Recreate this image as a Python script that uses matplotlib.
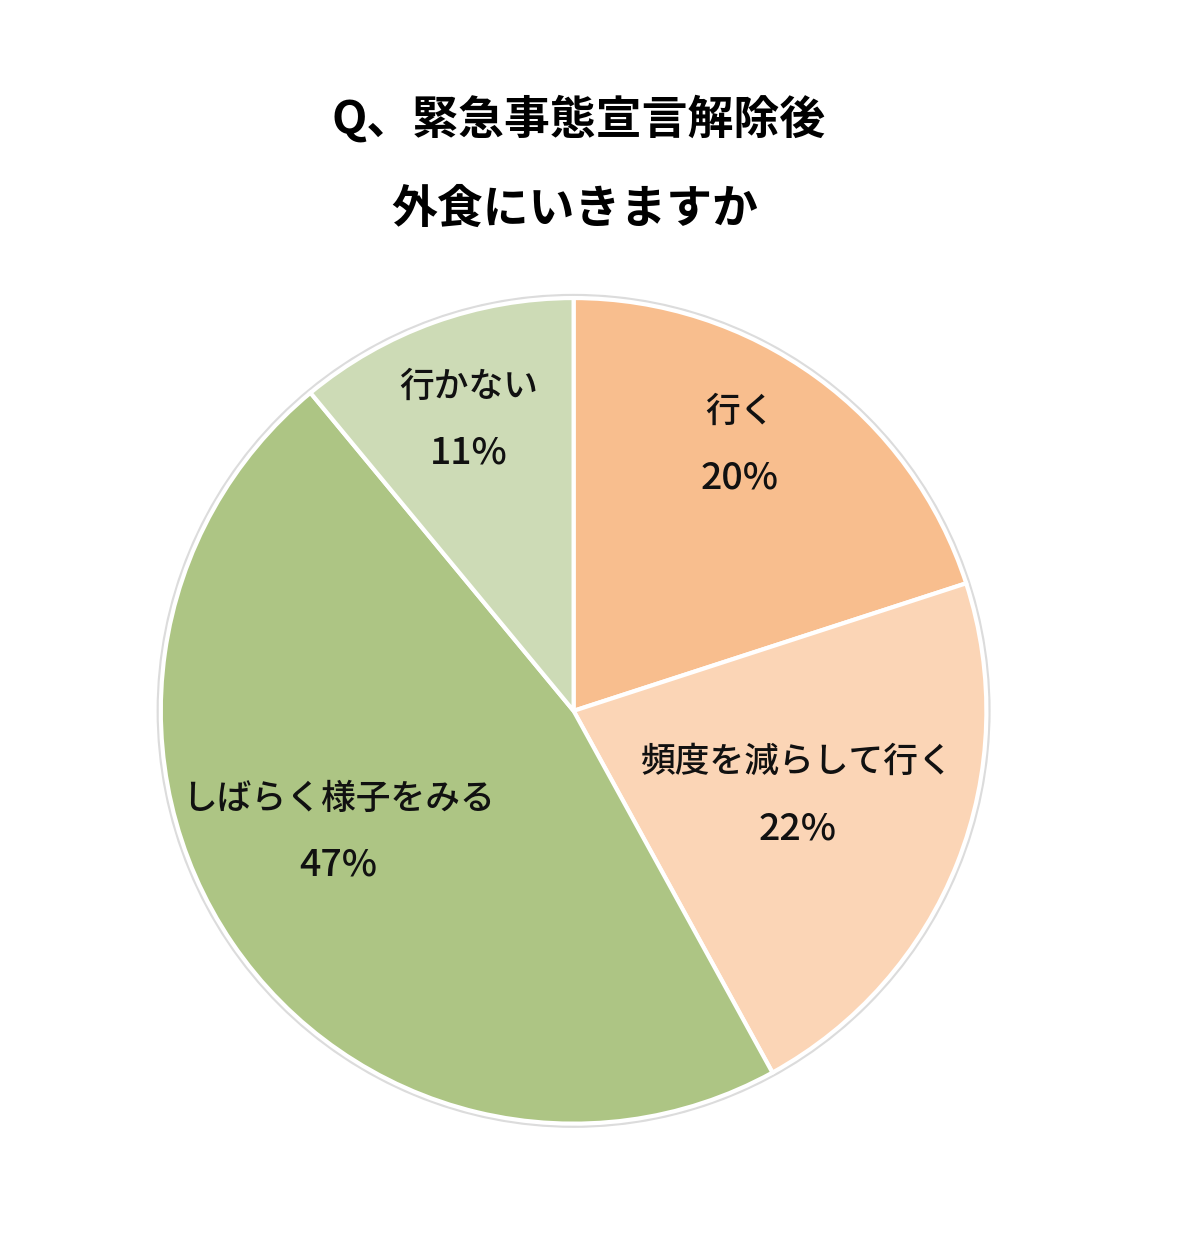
"""外食アンケートの円グラフ"""
import numpy as np
import matplotlib
matplotlib.use('Agg')
import matplotlib.pyplot as plt
from matplotlib.patches import Circle

plt.rcParams['font.family'] = ['Noto Sans CJK JP', 'DejaVu Sans']

# データ
labels = ['行く', '頻度を減らして行く', 'しばらく様子をみる', '行かない']
values = [20, 22, 47, 11]
colors = ['#F8BE8E', '#FBD5B6', '#ADC584', '#CDDBB6']

# ラベルの中心からの距離と角度の微調整
label_dist = [0.76, 0.58, 0.64, 0.75]
angle_nudge = [4, 1, -7, 0]

fig = plt.figure(figsize=(12, 12.48), dpi=100)
ax = fig.add_axes([0.134, 0.0994, 0.688, 0.662])

wedges, _ = ax.pie(values, colors=colors, startangle=90, counterclock=False,
                   radius=1.0, wedgeprops=dict(edgecolor='white', linewidth=3))
ax.add_patch(Circle((0, 0), 1.006, fill=False, edgecolor='#dcdcdc', linewidth=2.5,
                    zorder=0, clip_on=False))
ax.set_xlim(-1.0, 1.0)
ax.set_ylim(-1.0, 1.0)
ax.set_aspect('equal')
ax.axis('off')

gap = 0.08
for w, lab, v, d, nd in zip(wedges, labels, values, label_dist, angle_nudge):
    mid = np.deg2rad((w.theta1 + w.theta2) / 2 + nd)
    x, y = d * np.cos(mid), d * np.sin(mid)
    ax.text(x, y + gap, lab, ha='center', va='center', fontsize=25,
            fontweight='medium', color='#111111')
    ax.text(x, y - gap, f'{v}%', ha='center', va='center', fontsize=27,
            fontweight='medium', color='#111111')

fig.text(0.482, 0.904, 'Q、緊急事態宣言解除後', ha='center', va='center',
         fontsize=33, fontweight='bold')
fig.text(0.479, 0.832, '外食にいきますか', ha='center', va='center',
         fontsize=33, fontweight='bold')

plt.savefig('out.png', dpi=100)
